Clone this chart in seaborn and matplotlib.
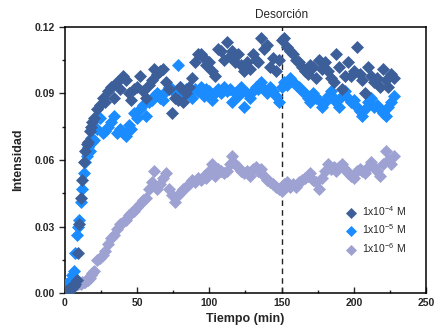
import numpy as np
import pandas as pd
import matplotlib
matplotlib.use('Agg')
import matplotlib.pyplot as plt
import seaborn as sns

# sampling times (min): every minute at the start, then every 2 min
tiempo = [0, 1, 2, 3, 4, 5, 6, 7, 8, 9, 10, 11, 12, 13, 14, 15, 16, 17, 18, 19, 20,
          22, 24, 26, 28, 30, 32, 34, 36, 38, 40, 42, 44, 46, 48, 50, 52, 54, 56, 58,
          60, 62, 64, 66, 68, 70, 72, 74, 76, 78, 80, 82, 84, 86, 88, 90, 92, 94, 96, 98,
          100, 102, 104, 106, 108, 110, 112, 114, 116, 118, 120, 122, 124, 126, 128,
          130, 132, 134, 136, 138, 140, 142, 144, 146, 148, 150, 152, 154, 156, 158,
          160, 162, 164, 166, 168, 170, 172, 174, 176, 178, 180, 182, 184, 186, 188,
          190, 192, 194, 196, 198, 200, 202, 204, 206, 208, 210, 212, 214, 216, 218,
          220, 222, 224, 226, 228]

# intensities in units of 1e-3
int_1e4 = [0, 1, 1, 2, 2, 3, 3, 4, 6, 18, 31, 43, 51, 59, 64, 67, 68, 73, 75, 77, 79,
           83, 85, 88, 86, 91, 93, 88, 95, 92, 98, 96, 90, 87, 92, 93, 98, 91, 88, 94,
           96, 101, 99, 100, 101, 95, 92, 81, 88, 87, 93, 86, 90, 93, 97, 104, 108, 108, 106, 103,
           104, 100, 98, 110, 109, 105, 113, 107, 109, 104, 108, 103, 100, 104, 101,
           108, 105, 104, 115, 110, 112, 102, 106, 100, 105, 114, 115, 111, 109, 108,
           105, 104, 102, 100, 99, 103, 102, 97, 105, 101, 104, 100, 97, 95, 108,
           102, 92, 98, 104, 98, 100, 111, 99, 96, 90, 102, 98, 95, 97, 93,
           101, 96, 93, 99, 97]

int_1e5 = [0, 4, 3, 5, 6, 8, 10, 18, 26, 30, 33, 41, 47, 54, 59, 62, 66, 64, 70, 68, 69,
           74, 79, 72, 73, 75, 77, 80, 72, 74, 72, 71, 76, 74, 81, 79, 83, 85, 80, 86,
           87, 89, 90, 88, 87, 91, 93, 92, 90, 103, 93, 90, 92, 91, 88, 92, 91, 93, 89, 92,
           91, 87, 90, 92, 90, 93, 91, 92, 86, 90, 89, 93, 84, 90, 88,
           91, 93, 92, 95, 92, 90, 93, 91, 89, 86, 93, 95, 94, 97, 95,
           94, 93, 91, 90, 88, 86, 90, 88, 87, 84, 86, 89, 91, 88, 86,
           84, 89, 91, 88, 86, 87, 84, 82, 80, 83, 86, 88, 84, 85, 83,
           81, 80, 84, 86, 89]

int_1e6 = [0, 1, 1, 2, 2, 3, 3, 4, 4, 4, 5, 4, 5, 5, 5, 6, 6, 7, 8, 9, 10,
           15, 16, 17, 19, 22, 25, 26, 29, 31, 32, 33, 35, 36, 37, 39, 40, 42, 43, 47,
           50, 55, 47, 49, 52, 54, 47, 44, 41, 44, 45, 47, 48, 49, 51, 50, 52, 51, 53, 52,
           55, 58, 53, 56, 55, 54, 55, 58, 62, 58, 57, 55, 54, 55, 53,
           56, 57, 55, 56, 53, 51, 50, 49, 48, 47, 46, 49, 50, 48, 49,
           48, 50, 51, 52, 53, 54, 51, 50, 47, 52, 55, 58, 56, 57, 55,
           57, 58, 56, 54, 53, 52, 55, 56, 55, 54, 57, 59, 57, 55, 53,
           58, 64, 60, 58, 62]

etiquetas = ['1x10$^{-4}$ M', '1x10$^{-5}$ M', '1x10$^{-6}$ M']
colores = ['#3c5f99', '#1a8cff', '#9ea2d3']

df = pd.concat([
    pd.DataFrame({'t': tiempo, 'I': np.array(v) / 1000.0, 'conc': lab})
    for v, lab in zip([int_1e4, int_1e5, int_1e6], etiquetas)
])

sns.set_style('ticks')
plt.rcParams['font.family'] = ['Liberation Sans', 'DejaVu Sans']
plt.rcParams['mathtext.default'] = 'regular'

fig = plt.figure(figsize=(4.36, 3.33), dpi=100)
ax = fig.add_axes([0.149, 0.12, 0.828, 0.799])

# light series drawn first so the darker ones sit on top
for lab, col in zip(etiquetas[::-1], colores[::-1]):
    sns.scatterplot(data=df[df.conc == lab], x='t', y='I', color=col, marker='D',
                    s=44, linewidth=0, ax=ax, label=lab, zorder=3)

ax.axvline(150, color='#222222', ls=(0, (4, 3)), lw=1.0, zorder=2)
ax.text(150, 0.1225, 'Desorción', ha='center', va='bottom', fontsize=8.5)

ax.set_xlim(0, 250)
ax.set_ylim(0, 0.12)
ax.set_xticks([0, 50, 100, 150, 200, 250])
ax.set_xticks([25, 75, 125, 175, 225], minor=True)
ax.set_yticks([0, 0.03, 0.06, 0.09, 0.12])
ax.set_yticks([0.015, 0.045, 0.075, 0.105], minor=True)
ax.set_yticklabels(['0.00', '0.03', '0.06', '0.09', '0.12'])
ax.tick_params(axis='y', which='major', direction='out', length=4, width=1, labelsize=7.5)
ax.tick_params(axis='y', which='minor', direction='out', length=2.5, width=1)
ax.tick_params(axis='x', which='major', direction='in', length=4, width=1, labelsize=7.5)
ax.tick_params(axis='x', which='minor', direction='in', length=2.5, width=1)
for lbl in ax.get_xticklabels() + ax.get_yticklabels():
    lbl.set_fontweight('bold')
for sp in ax.spines.values():
    sp.set_visible(True)
    sp.set_linewidth(1.1)
    sp.set_color('black')

ax.set_xlabel('Tiempo (min)', fontsize=9, fontweight='bold', labelpad=4)
ax.set_ylabel('Intensidad', fontsize=9, fontweight='bold', labelpad=7)

h, l = ax.get_legend_handles_labels()
ax.legend(h[::-1], l[::-1], loc='center left', bbox_to_anchor=(0.75, 0.24),
          frameon=False, fontsize=7.5, labelspacing=0.45, handletextpad=0.4,
          handlelength=1.2, markerscale=0.85)

fig.savefig('out.png', dpi=100)
